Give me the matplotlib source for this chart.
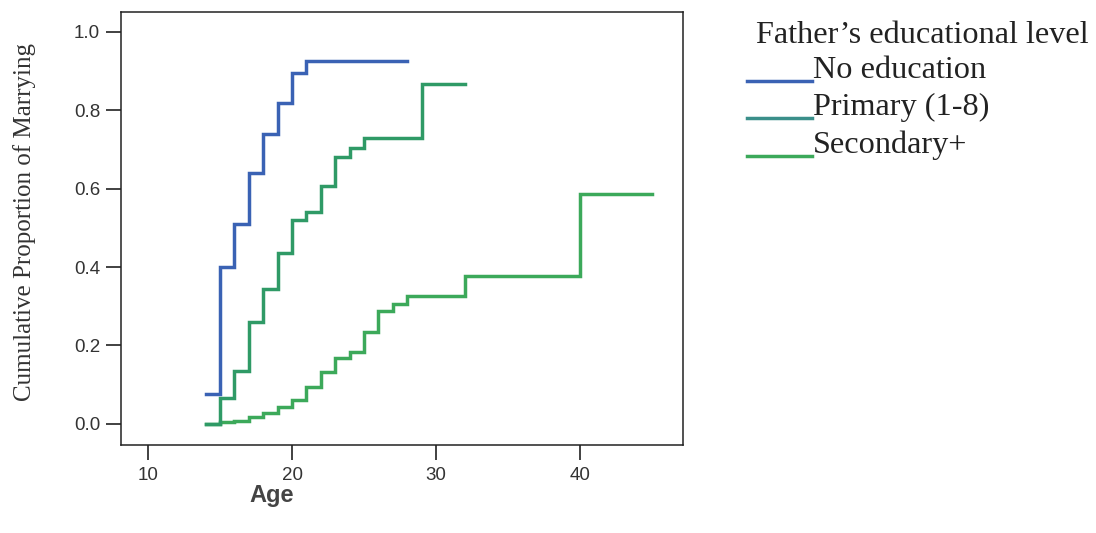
import matplotlib
matplotlib.use('Agg')
import matplotlib.pyplot as plt
from matplotlib.lines import Line2D

# step curves (age at each step, cumulative proportion)
no_edu_age = [14, 15, 16, 17, 18, 19, 20, 21, 28]
no_edu_val = [0.075, 0.40, 0.51, 0.64, 0.74, 0.82, 0.895, 0.925, 0.925]

primary_age = [14, 15, 16, 17, 18, 19, 20, 21, 22, 23, 24, 25, 29, 32]
primary_val = [0.0, 0.065, 0.135, 0.26, 0.345, 0.435, 0.52, 0.54, 0.607, 0.68, 0.705, 0.73, 0.867, 0.867]

second_age = [14, 15, 16, 17, 18, 19, 20, 21, 22, 23, 24, 25, 26, 27, 28, 32, 40, 45]
second_val = [0.0, 0.004, 0.008, 0.018, 0.028, 0.044, 0.062, 0.093, 0.133, 0.168, 0.184, 0.235,
              0.289, 0.306, 0.325, 0.378, 0.587, 0.587]

labels = ['No education', 'Primary (1-8)', 'Secondary+']
colors = ['#3a62b4', '#2f9a66', '#3ca95a']
legend_colors = ['#3a62b4', '#3a8f8a', '#3ca95a']
legend_title = 'Father\u2019s educational level'

xticks = [10, 20, 30, 40]
yticks = [0.0, 0.2, 0.4, 0.6, 0.8, 1.0]

serif = ['Liberation Serif', 'DejaVu Serif']
sans = ['Liberation Sans', 'DejaVu Sans']

fig = plt.figure(figsize=(10.96, 5.33), dpi=100)
ax = fig.add_axes([121 / 1096, 1 - 445 / 533, (683 - 121) / 1096, (445 - 12) / 533])

series = [(second_age, second_val), (primary_age, primary_val), (no_edu_age, no_edu_val)]
cols = [colors[2], colors[1], colors[0]]
for (a, v), c in zip(series, cols):
    ax.step(a, v, where='post', color=c, lw=2.5, solid_joinstyle='miter')

ax.set_xlim(8.12, 47.15)
ax.set_ylim(-0.054, 1.051)
ax.set_xticks(xticks)
ax.set_yticks(yticks)
ax.set_yticklabels([f'{t:.1f}' for t in yticks])
ax.tick_params(axis='both', direction='out', length=11, width=1.3, labelsize=13.5, color='#333333')
ax.tick_params(axis='y', pad=4)
ax.tick_params(axis='x', pad=5)
for lab in ax.get_xticklabels() + ax.get_yticklabels():
    lab.set_family(sans)
    lab.set_color('#333333')
for s in ax.spines.values():
    s.set_linewidth(1.1)
    s.set_color('#222222')

ax.set_xlabel('Age', family=sans, fontsize=17, fontweight='bold', color='#444444')
ax.xaxis.set_label_coords((272 - 121) / (683 - 121), -0.09)
fig.text(25 / 1096, 1 - 222 / 533, 'Cumulative Proportion of Marrying', rotation=90,
         family=serif, fontsize=18, color='#333333', ha='center', va='center')

# legend drawn by hand: short line under the baseline, text right after it
fig.text(756 / 1096, 1 - 43 / 533, legend_title, family=serif, fontsize=23.2,
         color='#222222', ha='left', va='baseline')
for i, (lab, c) in enumerate(zip(labels, legend_colors)):
    base = 78 + i * 37.5
    fig.add_artist(Line2D([747 / 1096, 812 / 1096], [1 - (base + 3) / 533] * 2,
                          transform=fig.transFigure, color=c, lw=2.5))
    fig.text(813 / 1096, 1 - base / 533, lab, family=serif, fontsize=23.2,
             color='#222222', ha='left', va='baseline')

fig.savefig('out.png', dpi=100)
